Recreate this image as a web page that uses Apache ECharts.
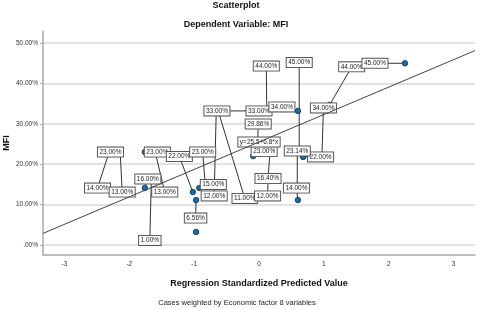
<!DOCTYPE html>
<html>
<head>
<meta charset="utf-8">
<script src="https://cdn.jsdelivr.net/npm/echarts@6/dist/echarts.min.js"></script>
<style>html,body{margin:0;padding:0;background:#fff}#c{width:480px;height:309px}</style>
</head>
<body>
<div id="c"></div>
<script>
// ---- data ----
const predX   = [-2.29,-2.32,-2.14,-1.76,-1.76,-1.60,-1.66,-1.02,-0.97,-0.97,-0.92,-0.83,-0.14,-0.66,-0.62,0.00,0.12,0.62,0.68,0.60,0.97,1.09,2.25,0.59,0.60,-0.02,-0.09,0.17,0.14];
const mfi     = [23.0,22.5,23.0,23.0,14.1,23.0,16.1,13.1,11.1,3.2,14.1,15.1,33.2,32.7,32.7,33.2,33.4,23.5,21.8,33.2,21.8,34.7,45.0,14.1,11.1,25.5,22.0,23.0,16.6];
const caseLabel = [23,14,13,23,16,13,1,22,6.56,null,15,23,33,12,11,33,44,45,22,34,34,44,45,23.14,14,29.86,23,16.4,12];
const xTicks  = [-3,-2,-1,0,1,2,3];
const yTicks  = [0,10,20,30,40,50];
const fitIntercept = 25.5;
const fitSlope = 6.8;
// label placement nudges (pixels), layout only
const labelNudge = [[0,0],[-11,34],[2,40],[12.5,0],[3,-9],[9.5,40],[-1.5,60.5],[-13.5,-35.5],[-0.5,18],[0,0],[14,-3.5],[-2.5,-32],[-33,0],[-2,83],[26,85.5],[0,0],[-0.5,-44],[0,-87.5],[17.5,0],[-16,-4],[1.5,-49],[22,-38],[-30,0],[0,-37],[-1.5,-12],[0.5,-18],[11,-4.5],[-2,26.5],[-0.5,18]];

const xMin = -3.33, xMax = 3.33;
const FONT = 'Liberation Sans, Arial, sans-serif';
const fmt = v => v === 0 ? '.00%' : v.toFixed(2) + '%';

const labelBox = {
  show: true, position: 'inside', fontSize: 6.5, lineHeight: 8, fontFamily: FONT,
  color: '#222', backgroundColor: '#fff', borderColor: '#555', borderWidth: 1, padding: [1, 1.5, 0, 1.5]
};

const points = predX.map((x, i) => {
  const item = { value: [x, mfi[i]] };
  if (caseLabel[i] == null) {
    item.label = { show: false };
  } else {
    item.label = Object.assign({}, labelBox, { formatter: caseLabel[i].toFixed(2) + '%', offset: labelNudge[i] });
  }
  return item;
});

const chart = echarts.init(document.getElementById('c'), null, { renderer: 'canvas' });
chart.setOption({
  animation: false,
  backgroundColor: '#fff',
  textStyle: { fontFamily: FONT },
  title: [
    { text: 'Scatterplot', left: 236, top: 1, textAlign: 'center', padding: 0,
      textStyle: { fontSize: 9, fontWeight: 'bold', color: '#111', fontFamily: FONT } },
    { text: 'Dependent Variable: MFI', left: 236, top: 20, textAlign: 'center', padding: 0,
      textStyle: { fontSize: 9, fontWeight: 'bold', color: '#111', fontFamily: FONT } },
    { text: 'Cases weighted by Economic factor 8 variables', left: 237, top: 299, textAlign: 'center', padding: 0,
      textStyle: { fontSize: 7.5, fontWeight: 'normal', color: '#222', fontFamily: FONT } }
  ],
  grid: { left: 43, right: 5, top: 31, bottom: 54, containLabel: false, outerBoundsMode: 'none' },
  xAxis: {
    type: 'value', min: xMin, max: xMax,
    name: 'Regression Standardized Predicted Value', nameLocation: 'middle', nameGap: 24, nameMoveOverlap: false,
    nameTextStyle: { fontSize: 9, fontWeight: 'bold', color: '#111', fontFamily: FONT },
    axisLine: { show: true, onZero: false, lineStyle: { color: '#aaa', width: 1.5 } },
    axisTick: { show: false },
    axisLabel: { customValues: xTicks, fontSize: 6.5, color: '#333', margin: 6, formatter: v => String(v) },
    splitLine: { show: false }
  },
  yAxis: {
    type: 'value', min: -2.5, max: 53,
    name: 'MFI', nameLocation: 'middle', nameGap: 32, nameRotate: 90, nameMoveOverlap: false,
    nameTextStyle: { fontSize: 9, fontWeight: 'bold', color: '#111', fontFamily: FONT },
    axisLine: { show: true, onZero: false, lineStyle: { color: '#aaa', width: 1.5 } },
    axisTick: { show: true, customValues: yTicks, length: 3, lineStyle: { color: '#aaa' } },
    axisLabel: { customValues: yTicks, fontSize: 6.5, color: '#333', margin: 5, formatter: fmt },
    splitLine: { show: true, lineStyle: { color: '#d9d9d9', width: 1.5 } }
  },
  series: [
    {
      // leader lines from each point to its (nudged) label
      type: 'custom', z: 1, silent: true,
      data: predX.map((x, i) => [x, mfi[i]]),
      renderItem: (params, api) => {
        const i = params.dataIndex;
        if (caseLabel[i] == null) return null;
        const p = api.coord([api.value(0), api.value(1)]);
        const n = labelNudge[i];
        return { type: 'line', shape: { x1: p[0], y1: p[1], x2: p[0] + n[0], y2: p[1] + n[1] },
                 style: { stroke: '#333', lineWidth: 1 } };
      }
    },
    {
      type: 'scatter', z: 2,
      symbol: 'circle', symbolSize: 5.5,
      itemStyle: { color: '#1c6aa8', borderColor: '#0d2c4a', borderWidth: 0.8, opacity: 1 },
      data: points
    },
    {
      type: 'line', z: 5, symbol: 'none', silent: true,
      lineStyle: { color: '#444', width: 1 },
      data: [[xMin, fitIntercept + fitSlope * xMin], [xMax, fitIntercept + fitSlope * xMax]],
      markPoint: {
        symbol: 'circle', symbolSize: 0, silent: true,
        data: [{ coord: [0, fitIntercept],
          label: Object.assign({}, labelBox, { fontSize: 6.5, formatter: 'y=' + fitIntercept + '+' + fitSlope + '*x' }) }]
      }
    }
  ]
});
</script>
</body>
</html>
